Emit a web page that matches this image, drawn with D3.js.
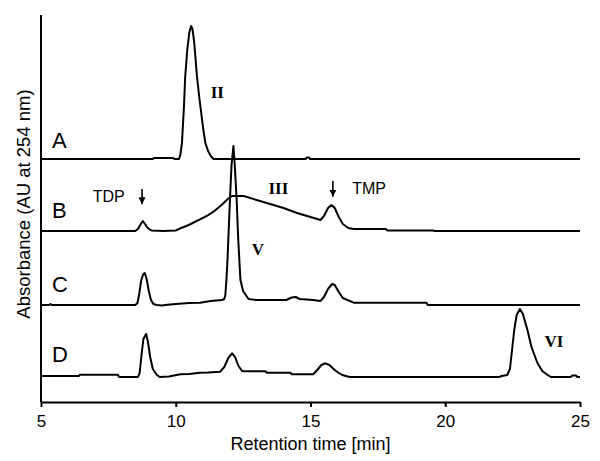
<!DOCTYPE html>
<html><head><meta charset="utf-8">
<script src="https://cdn.jsdelivr.net/npm/d3@7"></script>
<style>body{margin:0;background:#fff}svg{display:block}</style>
</head><body>
<svg id="chart" width="600" height="461"></svg>
<script>
// ---- data (retention time [min], absorbance above trace baseline, arbitrary units) ----
const traceNames = ["A", "B", "C", "D"];
const traceOffsets = [243, 171, 97, 25];
const traceA = [[5,0],[9.15,0],[9.2,1],[9.9,1],[9.95,0],[10.12,0],[10.17,4],[10.23,16],[10.3,50],[10.35,82],[10.43,110],[10.5,126],[10.57,133],[10.62,130],[10.68,118],[10.79,82],[10.88,60],[10.95,45],[11.02,30],[11.1,16],[11.2,8],[11.3,3],[11.4,0],[14.82,0],[14.86,1.5],[14.95,1.5],[14.98,0],[25,0]];
const traceB = [[5,0],[8.5,0],[8.6,2],[8.7,7],[8.78,10],[8.86,7],[8.96,3],[9.1,0.5],[9.54,0],[10.0,0.5],[10.17,2.7],[10.3,4],[10.48,6],[10.7,9],[10.9,11.7],[11.15,15],[11.4,19.3],[11.7,26],[11.96,32.7],[12.09,35],[12.52,35],[13.0,31],[13.5,27],[14.0,23],[14.5,18],[15.0,14],[15.37,11],[15.5,15],[15.65,23],[15.78,26],[15.9,23],[16.05,14],[16.2,7],[16.4,3],[16.6,2],[17.8,2],[17.85,0.5],[19.55,0.5],[19.6,0],[25,0]];
const traceC = [[5,0],[5.3,0],[5.35,1],[5.4,0],[8.5,0],[8.58,2],[8.65,12],[8.72,25],[8.8,31],[8.85,32],[8.92,26],[9.0,14],[9.08,5],[9.17,1],[9.3,0],[9.5,-0.5],[9.6,0],[10.0,1],[10.5,2],[10.9,2.3],[11.3,4],[11.72,5],[11.8,6],[11.84,10],[11.88,25],[11.92,45],[11.95,65],[12.01,105],[12.07,140],[12.14,159],[12.19,140],[12.26,105],[12.32,65],[12.37,40],[12.4,25],[12.5,14],[12.6,10],[12.7,6],[13.0,5],[14.1,5],[14.3,7.5],[14.45,8],[14.6,6],[15.1,5],[15.37,4],[15.5,8],[15.65,16],[15.8,21],[15.9,20],[16.05,13],[16.2,7],[16.37,5],[16.6,2.3],[19.3,2.3],[19.35,0],[25,0]];
const traceD = [[5,1],[6.4,1],[6.45,2.3],[7.85,2.3],[7.9,0],[8.6,0],[8.66,4],[8.73,22],[8.8,38],[8.9,43],[8.97,35],[9.05,20],[9.15,8],[9.3,2],[9.4,0],[9.75,0.5],[10.17,2.7],[10.5,3],[10.9,4.3],[11.2,4.5],[11.65,5.3],[11.8,10],[11.95,19],[12.09,23.7],[12.2,20],[12.33,11],[12.46,6],[12.52,5.7],[13.33,5.7],[13.38,4.3],[14.26,4.3],[14.3,2.7],[15.1,2.7],[15.25,7],[15.4,12],[15.56,13.7],[15.7,12],[15.9,7],[16.05,4],[16.18,2],[16.45,0],[22.0,0],[22.1,1],[22.3,2],[22.4,8],[22.47,25],[22.56,47],[22.65,62],[22.77,68],[22.88,63],[23.05,47],[23.2,30],[23.42,14],[23.6,6],[23.8,2],[23.92,0],[24.65,0],[24.72,1.5],[24.85,1.5],[24.9,0],[25,0]];
const xTicks = [5, 10, 15, 20, 25];
// peak / marker annotations: [text, time, absorbance]
const peakLabels = [["II", 11.54, 304], ["III", 13.81, 208], ["V", 13.05, 147], ["VI", 24.03, 55]];
const markerLabels = [["TDP", 6.92, 200.3, 8.75, 213, 197.7], ["TMP", 16.55, 208, 15.83, 221, 205.3]];
const traceLabelAnchor = [[5.41, 254], [5.41, 184], [5.41, 110.3], [5.41, 40.3]];

const svg = d3.select("#chart");
const margin = {left: 41, right: 20, top: 15, bottom: 59};
const W = 600, H = 461;
const x = d3.scaleLinear().domain([5, 25]).range([margin.left, 580]);
const y = d3.scaleLinear().domain([0, 387]).range([H - margin.bottom, margin.top]);

// axes
const xAxis = d3.axisBottom(x).tickValues(xTicks).tickSize(5).tickSizeOuter(0).tickPadding(8);
const gx = svg.append("g").attr("transform", `translate(0,${y(0)})`).call(xAxis);
gx.select(".domain").attr("stroke", "#000").attr("stroke-width", 2);
gx.selectAll(".tick line").attr("stroke", "#000").attr("stroke-width", 2);
gx.selectAll(".tick text").attr("font-family", "Liberation Sans, Arial, sans-serif").attr("font-size", 17).attr("fill", "#000");

svg.append("line").attr("x1", x(5)).attr("x2", x(5)).attr("y1", y(387)).attr("y2", y(0))
  .attr("stroke", "#000").attr("stroke-width", 2);

svg.append("text").attr("x", x(15)).attr("y", 450).attr("text-anchor", "middle")
  .attr("font-family", "Liberation Sans, Arial, sans-serif").attr("font-size", 18).text("Retention time [min]");
svg.append("text").attr("transform", `translate(30,${204}) rotate(-90)`).attr("text-anchor", "middle")
  .attr("font-family", "Liberation Sans, Arial, sans-serif").attr("font-size", 18.5).text("Absorbance (AU at 254 nm)");

// traces
const traces = [traceA, traceB, traceC, traceD];
const line = d3.line().x(d => x(d[0])).y(d => y(d[1]));
traces.forEach((tr, i) => {
  svg.append("path").datum(tr.map(d => [d[0], d[1] + traceOffsets[i]]))
    .attr("d", line).attr("fill", "none").attr("stroke", "#000")
    .attr("stroke-width", 2).attr("stroke-linejoin", "round");
  svg.append("text").attr("x", x(traceLabelAnchor[i][0])).attr("y", y(traceLabelAnchor[i][1]))
    .attr("font-family", "Liberation Sans, Arial, sans-serif").attr("font-size", 22).text(traceNames[i]);
});

// peak labels
peakLabels.forEach(p => {
  svg.append("text").attr("x", x(p[1])).attr("y", y(p[2])).attr("text-anchor", "middle")
    .attr("font-family", "Liberation Serif, Times New Roman, serif").attr("font-weight", "bold")
    .attr("font-size", 17).text(p[0]);
});

// markers with arrows
svg.append("defs").append("marker").attr("id", "ah").attr("viewBox", "0 0 10 10")
  .attr("refX", 10).attr("refY", 5).attr("markerWidth", 7).attr("markerHeight", 7)
  .attr("markerUnits", "userSpaceOnUse").attr("orient", "auto")
  .append("path").attr("d", "M0,0L10,5L0,10z").attr("fill", "#000");
markerLabels.forEach(m => {
  svg.append("text").attr("x", x(m[1])).attr("y", y(m[2]))
    .attr("font-family", "Liberation Sans, Arial, sans-serif").attr("font-size", 16).text(m[0]);
  svg.append("line").attr("x1", x(m[3])).attr("x2", x(m[3])).attr("y1", y(m[4])).attr("y2", y(m[5]))
    .attr("stroke", "#000").attr("stroke-width", 1.6).attr("marker-end", "url(#ah)");
});
</script>
</body></html>
